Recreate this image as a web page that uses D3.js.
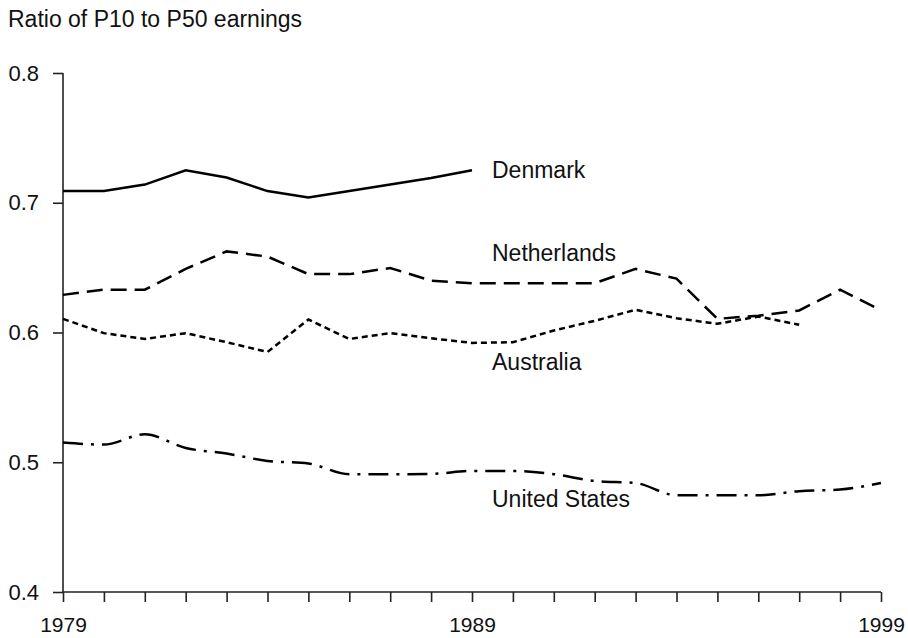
<!DOCTYPE html>
<html lang="en">
<head>
<meta charset="utf-8">
<script src="https://cdn.jsdelivr.net/npm/d3@7"></script>
<style>
body{margin:0;background:#fff;}
svg text{font-family:"Liberation Sans",Arial,Helvetica,sans-serif;fill:#111;}
</style>
</head>
<body>
<div id="chart"></div>
<script>
// values
const years=d3.range(1979,2000)
const denmark=[0.709,0.709,0.714,0.725,0.7195,0.709,0.704,0.709,0.714,0.719,0.725]
const netherlands=[0.629,0.633,0.633,0.649,0.6625,0.6585,0.645,0.645,0.6497,0.640,0.638,0.638,0.638,0.638,0.649,0.6415,0.6105,0.613,0.617,0.633,0.617]
const australia=[0.6105,0.5995,0.595,0.5995,0.5925,0.585,0.610,0.595,0.5995,0.5955,0.592,0.5925,0.6015,0.609,0.6175,0.611,0.6067,0.6123,0.606]
const unitedStates=[0.5152,0.5136,0.5215,0.511,0.5067,0.501,0.499,0.4908,0.4908,0.491,0.4933,0.4933,0.4908,0.4856,0.484,0.4746,0.4746,0.4746,0.4777,0.479,0.484]
const yTicks=[0.4,0.5,0.6,0.7,0.8]
const xLabels=[1979,1989,1999]

const W=908,H=638
const svg=d3.select("#chart").append("svg").attr("width",W).attr("height",H)

const x=d3.scaleLinear().domain([1979,1999]).range([63,881])
const y=d3.scaleLinear().domain([0.4,0.8]).range([592,73])

// title
svg.append("text").attr("x",8).attr("y",27).style("font-size","23px").text("Ratio of P10 to P50 earnings")

// axes
const xAxis=d3.axisBottom(x).tickValues(years).tickSize(10).tickPadding(15)
  .tickFormat(d=>xLabels.includes(d)?String(d):"")
const yAxis=d3.axisLeft(y).tickValues(yTicks).tickSize(10).tickPadding(14).tickFormat(d3.format(".1f"))

const gx=svg.append("g").attr("transform","translate(0,592)").call(xAxis)
const gy=svg.append("g").attr("transform","translate(63,0)").call(yAxis)
;[gx,gy].forEach(g=>{
  g.select(".domain").attr("stroke","#222").attr("stroke-width",1.6)
  g.selectAll(".tick line").attr("stroke","#222").attr("stroke-width",1.6)
  g.selectAll(".tick text").style("font-size","21px").attr("fill","#111")
})
gy.selectAll(".tick text").style("font-size","22px")
gy.select(".domain").attr("d","M0,592V73")
gx.select(".domain").attr("d","M63,0H881")

// series
const series=[
  {name:"Denmark",vals:denmark,dash:null,curve:d3.curveLinear,lx:492,ly:178},
  {name:"Netherlands",vals:netherlands,dash:"16,8",curve:d3.curveLinear,lx:492,ly:261},
  {name:"Australia",vals:australia,dash:"6,4",curve:d3.curveLinear,lx:492,ly:370},
  {name:"United States",vals:unitedStates,dash:"20,8,3,8",curve:d3.curveMonotoneX,lx:492,ly:507}
]

series.forEach(s=>{
  const pts=s.vals.map((v,i)=>[years[i],v])
  const line=d3.line().x(d=>x(d[0])).y(d=>y(d[1])).curve(s.curve)
  svg.append("path").attr("d",line(pts)).attr("fill","none").attr("stroke","#000")
    .attr("stroke-width",2.5).attr("stroke-dasharray",s.dash)
  svg.append("text").attr("x",s.lx).attr("y",s.ly).style("font-size","23px").text(s.name)
})
</script>
</body>
</html>
